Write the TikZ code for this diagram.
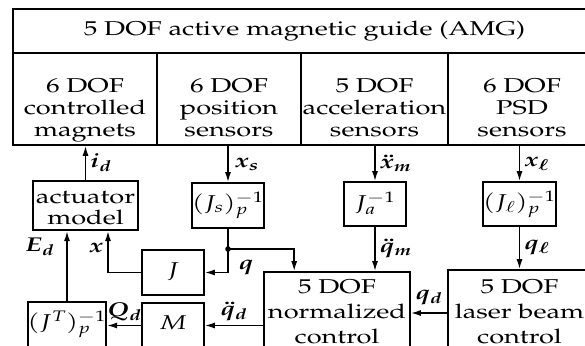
\documentclass[tikz,border=0pt]{standalone}
\usepackage[T1]{fontenc}
\usepackage{mathpazo}
\usepackage{graphicx}
\usepackage{tikz}
\usetikzlibrary{arrows.meta}
% 横向加宽的文字
\newcommand{\wtext}[1]{\scalebox{1.36}[1]{\begin{tabular}{@{}c@{}}#1\end{tabular}}}
\newcommand{\wmath}[1]{\scalebox{1.3}[1]{$#1$}}

\begin{document}
\begin{tikzpicture}[x=1pt,y=-1pt,line width=1.6pt,
  every node/.style={font=\fontsize{20}{22}\selectfont},
  blk/.style={draw,rectangle,inner sep=0pt},
  sub/.style={blk,minimum height=92pt},
  big/.style={blk,font=\fontsize{20}{25}\selectfont},
  arr/.style={-{Latex[length=10pt,width=6pt]}},
  lbl/.style={inner sep=1pt,font=\fontsize{20}{22}\selectfont\boldmath}]
  \useasboundingbox (0,0) rectangle (585,345);
  \clip (0,0) rectangle (585,345);
  % AMG 外框
  \node[blk,minimum width=583pt,minimum height=44pt] (amg) at (304.5,31) {\wtext{5 DOF active magnetic guide (AMG)}};
  \node[sub,minimum width=144pt] (mag) at (85,99) {\wtext{\rule{0pt}{37pt}6 DOF\\controlled\\magnets}};
  \node[sub,minimum width=144pt] (pos) at (229,99) {\wtext{\rule{0pt}{37pt}6 DOF\\position\\sensors}};
  \node[sub,minimum width=147pt] (acc) at (374.5,99) {\wtext{\rule{0pt}{37pt}5 DOF\\acceleration\\sensors}};
  \node[sub,minimum width=148pt] (psd) at (522,99) {\wtext{\rule{0pt}{37pt}6 DOF\\PSD\\sensors}};
  % 变换块
  \node[blk,minimum width=105pt,minimum height=45pt,font=\fontsize{20}{20}\selectfont] (act) at (85.5,205.5) {\wtext{\rule{0pt}{23pt}actuator\\model}};
  \node[blk,minimum width=62pt,minimum height=45pt] (js) at (228,205.5) {\wtext{$(J_s)_p^{-1}$}};
  \node[blk,minimum width=62pt,minimum height=44pt] (ja) at (375,204) {\wtext{$J_a^{-1}$}};
  \node[blk,minimum width=61pt,minimum height=44pt] (jl) at (519.5,204) {\wtext{$(J_\ell)_p^{-1}$}};
  \node[blk,minimum width=62pt,minimum height=45pt] (J) at (173,272.5) {\wtext{$J$}};
  \node[blk,minimum width=62pt,minimum height=45pt] (M) at (173,325.5) {\wtext{$M$}};
  \node[blk,minimum width=62pt,minimum height=45pt] (jt) at (67,324.5) {\wtext{$(J^T)_p^{-1}$}};
  % 控制块
  \node[big,minimum width=146pt,minimum height=82pt] (norm) at (337,313) {\wtext{5 DOF\\normalized\\control}};
  \node[big,minimum width=143pt,minimum height=86pt] (laser) at (519.5,313) {\wtext{5 DOF\\laser beam\\control}};
  % 传感器信号
  \draw[arr] (act.north) -- (act.north |- mag.south) node[lbl,midway,right=3pt]{\wmath{i_d}};
  \draw[arr] (js.north |- pos.south) -- (js.north) node[lbl,midway,right=5pt]{\wmath{x_s}};
  \draw[arr] (ja.north |- acc.south) -- (ja.north) node[lbl,midway,right=3pt]{\wmath{\ddot{x}_m}};
  \draw[arr] (jl.north |- psd.south) -- (jl.north) node[lbl,midway,right=3pt]{\wmath{x_\ell}};
  % 分支点
  \coordinate (dot) at (228,249);
  \draw (js.south) -- (dot);
  \fill (dot) circle (2.8pt);
  \draw[arr] (dot) -| ([xshift=31pt]norm.north west);
  \draw[arr] (dot) |- (J.east) node[lbl,pos=0.4,right=9pt]{\wmath{q}};
  \draw[arr] (J.west) -| ([xshift=22.5pt]act.south) node[lbl,pos=0.8,left=3pt]{\wmath{x}};
  \draw[arr] (jt.north) -- (jt.north |- act.south) node[lbl,pos=0.77,left=11pt]{\wmath{E_d}};
  % 加速度与激光信号
  \draw[arr] (ja.south) -- (ja.south |- norm.north) node[lbl,midway,right=3pt]{\wmath{\ddot{q}_m}};
  \draw[arr] (jl.south) -- (jl.south |- laser.north) node[lbl,midway,right=3pt]{\wmath{q_\ell}};
  \draw[arr] (laser.west) -- (norm.east) node[lbl,midway,above=6pt]{\wmath{q_d}};
  \draw[arr] (norm.west |- M.east) -- (M.east) node[lbl,midway,above=3pt]{\wmath{\ddot{q}_d}};
  \draw[arr] (M.west) -- (M.west -| jt.east) node[lbl,midway,above=3pt]{\wmath{Q_d}};
\end{tikzpicture}
\end{document}
